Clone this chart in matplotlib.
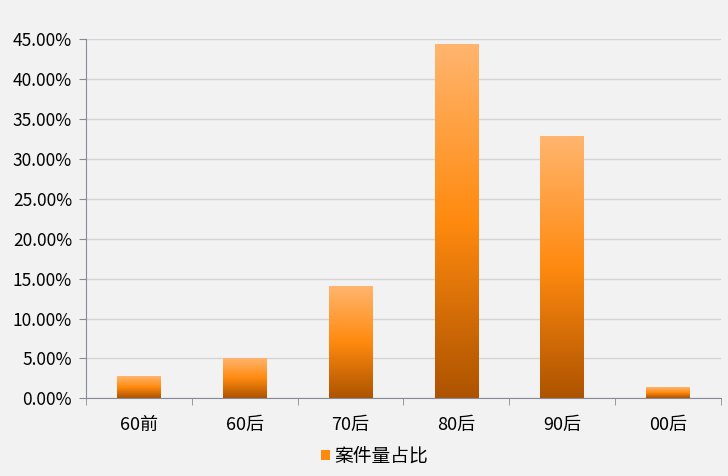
import numpy as np
import matplotlib
matplotlib.use('Agg')
import matplotlib.pyplot as plt
from matplotlib.colors import LinearSegmentedColormap
from matplotlib.patches import Patch
from matplotlib.ticker import FuncFormatter, FixedLocator

plt.rcParams['font.family'] = ['Noto Sans CJK SC', 'DejaVu Sans']

# data
categories = ['60前', '60后', '70后', '80后', '90后', '00后']
shares = [2.63, 4.89, 14.0, 44.3, 32.8, 1.36]
series_name = '案件量占比'

bg = '#f2f2f2'
axis_col = '#868a99'
grad = LinearSegmentedColormap.from_list('bar', ['#ad5300', '#ff8a0f', '#ffb56e'])

fig = plt.figure(figsize=(7.28, 4.76), dpi=100, facecolor=bg)
ax = fig.add_axes([0.118, 0.163, 0.872, 0.755], facecolor=bg)

x = np.arange(len(categories))
bars = ax.bar(x, shares, width=0.41, color='none', zorder=2)

# gradient fill for each bar
gradient = np.linspace(0, 1, 256).reshape(-1, 1)
for b in bars:
    x0, y0 = b.get_x(), b.get_y()
    ax.imshow(gradient, cmap=grad, origin='lower', aspect='auto',
              extent=(x0, x0 + b.get_width(), y0, y0 + b.get_height()), zorder=2)

ax.set_xlim(-0.5, len(categories) - 0.5)
ax.set_ylim(0, 45)
ax.set_yticks(np.arange(0, 46, 5))
ax.yaxis.set_major_formatter(FuncFormatter(lambda v, p: f'{v:.2f}%'))
ax.grid(axis='y', color='#d4d4d4', linewidth=1, zorder=0)
ax.set_axisbelow(True)

ax.set_xticks(x)
ax.set_xticklabels(categories)
ax.xaxis.set_minor_locator(FixedLocator(np.arange(-0.5, len(categories), 1)))
ax.tick_params(axis='x', which='major', length=0, pad=13, labelsize=13)
ax.tick_params(axis='x', which='minor', length=5, color=axis_col)
ax.tick_params(axis='y', length=5, color=axis_col, labelsize=12.5, pad=5)

for s in ['top', 'right']:
    ax.spines[s].set_visible(False)
for s in ['left', 'bottom']:
    ax.spines[s].set_color(axis_col)

handle = Patch(facecolor='#ff8a0f', label=series_name)
fig.legend(handles=[handle], loc='lower center', bbox_to_anchor=(0.515, -0.015),
           frameon=False, fontsize=13.5, handlelength=0.45, handleheight=0.45,
           handletextpad=0.25)

fig.savefig('out.png', dpi=100, facecolor=bg)
